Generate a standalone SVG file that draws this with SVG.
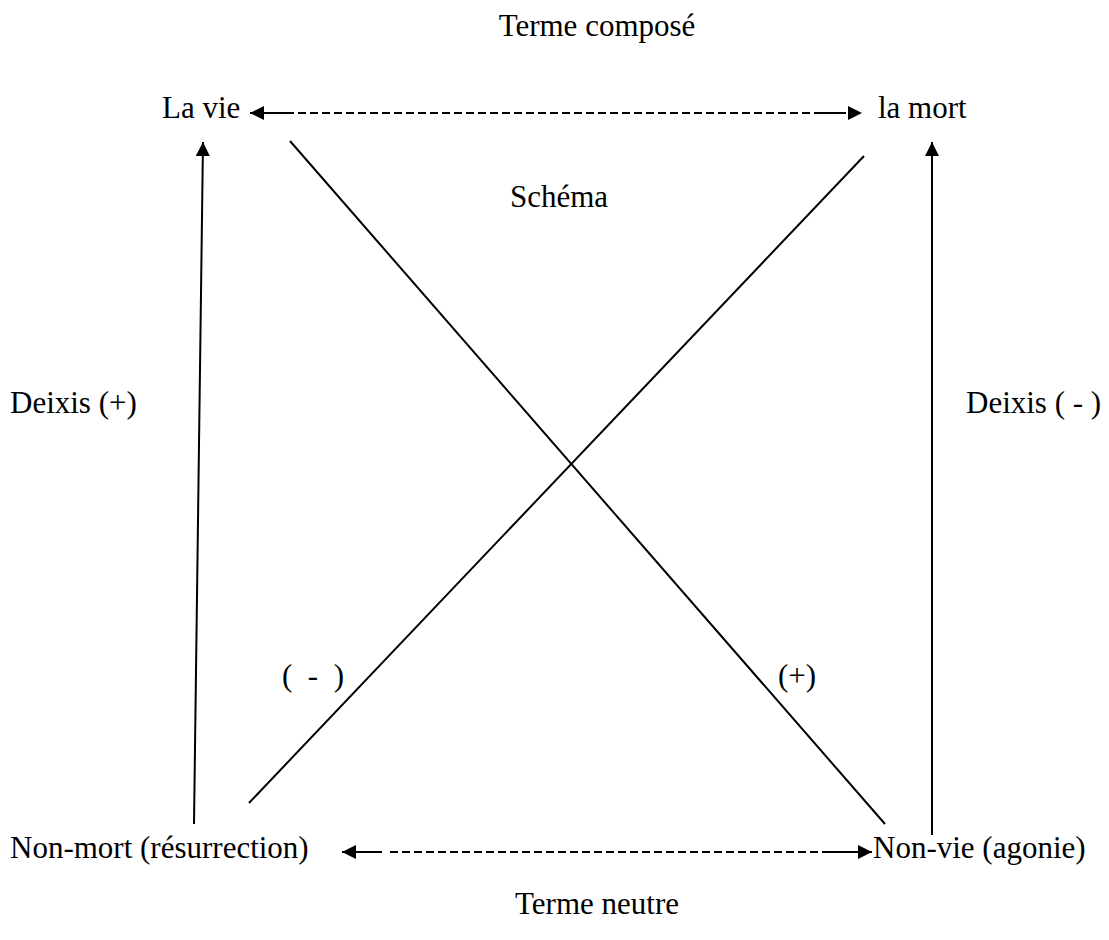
<svg xmlns="http://www.w3.org/2000/svg" width="1109" height="940" viewBox="0 0 1109 940">
<style>
text{font-family:"Liberation Serif","Times New Roman",serif;font-size:31px;fill:#000}
.ln{stroke:#000;stroke-width:2;fill:none}
.ds{stroke:#000;stroke-width:2;fill:none;stroke-dasharray:8 4}
</style>
<defs>
<marker id="ah" viewBox="0 0 10 10" refX="10" refY="5" markerWidth="17" markerHeight="14" markerUnits="userSpaceOnUse" orient="auto-start-reverse"><path d="M0,0 L10,5 L0,10 z" fill="#000"/></marker>
</defs>
<rect width="1109" height="940" fill="#fff"/>
<g id="labels">
<text x="597" y="36" text-anchor="middle">Terme composé</text>
<text x="510" y="207">Schéma</text>
<text x="10" y="413">Deixis (+)</text>
<text x="966" y="413">Deixis ( - )</text>
<text x="282" y="686" xml:space="preserve">(  -  )</text>
<text x="778" y="686">(+)</text>
<text x="597" y="914" text-anchor="middle">Terme neutre</text>
</g>
<g id="n-lavie"><text x="162" y="118">La vie</text></g>
<g id="n-lamort"><text x="878" y="118">la mort</text></g>
<g id="n-nonmort"><text x="10" y="858">Non-mort (résurrection)</text></g>
<g id="n-nonvie"><text x="873" y="858">Non-vie (agonie)</text></g>
<g id="connectors">
<line class="ds" x1="250" y1="113" x2="862" y2="113" marker-start="url(#ah)" marker-end="url(#ah)"/>
<line class="ln" x1="266" y1="113" x2="290" y2="113"/>
<line class="ln" x1="818" y1="113" x2="846" y2="113"/>
<line class="ln" x1="194" y1="824" x2="203" y2="142" marker-end="url(#ah)"/>
<line class="ln" x1="932" y1="835" x2="932" y2="142" marker-end="url(#ah)"/>
<line class="ln" x1="290" y1="141" x2="885" y2="824"/>
<line class="ln" x1="249" y1="803" x2="864" y2="156"/>
<line class="ln" x1="342" y1="852" x2="382" y2="852" marker-start="url(#ah)"/>
<line class="ds" x1="390" y1="852" x2="830" y2="852"/>
<line class="ln" x1="826" y1="852" x2="872" y2="852" marker-end="url(#ah)"/>
</g>
</svg>
